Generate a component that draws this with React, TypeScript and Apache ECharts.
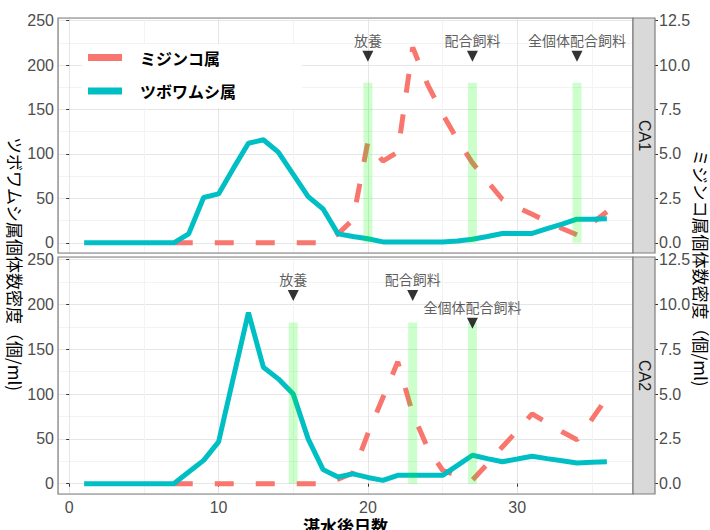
import React, { useEffect, useRef } from "react";
import * as echarts from "echarts";

// ---- data ----
const rotiferDays = [1, 2, 3, 4, 5, 6, 7, 8, 9, 10, 11, 12, 13, 14, 15, 16, 17, 18, 19, 20, 21, 22, 23, 24, 25, 26, 27, 28, 29, 30, 31, 32, 33, 34, 35, 36];
const daphniaDays = [7, 8, 9, 10, 11, 12, 13, 14, 15, 16, 17, 18, 19, 20, 21, 22, 23, 24, 25, 26, 27, 28, 29, 30, 31, 32, 33, 34, 35, 36];

// ツボワムシ属 (left axis, 個/ml)
const rotiferCA1 = [0, 0, 0, 0, 0, 0, 0, 10, 51, 55, 84, 112, 116, 102, 77, 52, 38, 10, 7, 4.5, 1, 1, 1, 1, 1, 2, 4, 7, 10.5, 10.5, 10.5, 16, 21, 26.5, 26.5, 27];
const rotiferCA2 = [0, 0, 0, 0, 0, 0, 0, 13, 26, 46.6, 119, 191, 130, 117, 100, 50, 15.7, 7.5, 11, 7, 3.7, 9.3, 9.3, 9.3, 9.3, 20.5, 31.7, 28, 24.5, 27.5, 30.6, 28, 25.5, 23, 24, 24.6];

// ミジンコ属 (right axis, 個/ml)
const daphniaCA1 = [0, 0, 0, 0, 0, 0, 0, 0, 0, 0, 0, 0.5, 1.3, 5.7, 4.6, 5.1, 11.0, 8.9, 7.25, 5.8, 4.5, 3.45, 2.45, 2.0, 1.6, 1.2, 0.8, 0.45, 1.1, 1.75];
const daphniaCA2 = [0, 0, 0, 0, 0, 0, 0, 0, 0, 0, 0, 0.25, 0.6, 2.8, 4.8, 6.8, 3.9, 2.0, 0.75, 0.45, 0.2, 1.1, 2.05, 2.95, 3.9, 3.4, 2.9, 2.45, 3.6, 4.8];

// events
const eventDaysCA1 = [20, 27, 34];
const eventDaysCA2 = [15, 23, 27];
const eventLabelsCA1 = ["放養", "配合飼料", "全個体配合飼料"];
const eventLabelsCA2 = ["放養", "配合飼料", "全個体配合飼料"];
const eventTextYCA1 = [228, 228, 228];
const eventTextYCA2 = [228, 228, 197];
const eventMarkYCA1 = [210, 210, 210];
const eventMarkYCA2 = [210, 210, 179];
const eventBarHeight = [180, 180, 180];

const stripLabels = ["CA1", "CA2"];
const seriesNames = ["ミジンコ属", "ツボワムシ属"];
const secScale = 20; // right axis value * 20 = left axis value

const RED = "#F8766D";
const TEAL = "#00BFC4";
const NUM_FONT = "Liberation Sans";
const CJK_FONT = "Noto Sans CJK JP";

export default function App() {
  const ref = useRef<HTMLDivElement>(null);

  useEffect(() => {
    if (!ref.current) return;
    const chart = echarts.init(ref.current, undefined, { renderer: "svg" });

    const GL = 58;
    const GW = 575;
    const panels = [
      { top: 18, height: 235, rot: rotiferCA1, daph: daphniaCA1, ev: eventDaysCA1, evL: eventLabelsCA1, evT: eventTextYCA1, evM: eventMarkYCA1 },
      { top: 257, height: 237, rot: rotiferCA2, daph: daphniaCA2, ev: eventDaysCA2, evL: eventLabelsCA2, evT: eventTextYCA2, evM: eventMarkYCA2 },
    ];
    const yMin = -11.5;
    const yMax = 253;

    const grids = panels.map((p) => ({
      left: GL,
      width: GW,
      top: p.top,
      height: p.height,
      show: true,
      backgroundColor: "#ffffff",
      borderWidth: 0,
    }));

    const splitLine = { show: true, lineStyle: { color: "#e6e6e6", width: 1 } };
    const minorSplitLine = { show: true, lineStyle: { color: "#f3f3f3", width: 1 } };
    const tickStyle = { show: true, length: 3, lineStyle: { color: "#333333", width: 1 } };
    const labelStyle = { color: "#4d4d4d", fontSize: 16, fontFamily: NUM_FONT };

    const xAxes = panels.map((p, g) => ({
      type: "value",
      gridIndex: g,
      min: -0.75,
      max: 37.75,
      splitNumber: 4,
      axisLine: { show: false },
      axisTick: g === 1 ? tickStyle : { show: false },
      axisLabel: g === 1 ? { ...labelStyle, margin: 5, showMinLabel: false, showMaxLabel: false } : { show: false },
      splitLine,
      minorTick: { show: false, splitNumber: 2 },
      minorSplitLine,
    }));

    const yAxes: any[] = [];
    panels.forEach((p, g) => {
      yAxes.push({
        type: "value",
        gridIndex: g,
        position: "left",
        min: yMin,
        max: yMax,
        splitNumber: 5,
        axisLine: { show: false },
        axisTick: tickStyle,
        axisLabel: { ...labelStyle, margin: 4, showMinLabel: false, showMaxLabel: false },
        splitLine,
        minorTick: { show: false, splitNumber: 2 },
        minorSplitLine,
      });
      yAxes.push({
        type: "value",
        gridIndex: g,
        position: "right",
        offset: 22,
        min: yMin,
        max: yMax,
        splitNumber: 5,
        axisLine: { show: false },
        axisTick: tickStyle,
        axisLabel: {
          ...labelStyle,
          margin: 4,
          showMinLabel: false,
          showMaxLabel: false,
          formatter: (v: number) => (v / secScale).toFixed(1),
        },
        splitLine: { show: false },
      });
    });

    const series: any[] = [];
    panels.forEach((p, g) => {
      series.push({
        type: "line",
        name: seriesNames[0],
        xAxisIndex: g,
        yAxisIndex: g * 2 + 1,
        data: daphniaDays.map((d, i) => [d, p.daph[i] * secScale]),
        symbol: "none",
        silent: true,
        lineStyle: { color: RED, width: 5, type: [19, 22], cap: "butt" },
        itemStyle: { color: RED },
        z: 2,
      });
      series.push({
        type: "line",
        name: seriesNames[1],
        xAxisIndex: g,
        yAxisIndex: g * 2,
        data: rotiferDays.map((d, i) => [d, p.rot[i]]),
        symbol: "none",
        silent: true,
        lineStyle: { color: TEAL, width: 5 },
        itemStyle: { color: TEAL },
        z: 3,
      });
      series.push({
        type: "bar",
        xAxisIndex: g,
        yAxisIndex: g * 2,
        data: p.ev.map((x, i) => [x, eventBarHeight[i]]),
        barWidth: 9,
        silent: true,
        itemStyle: { color: "rgba(0,255,0,0.2)" },
        z: 4,
      });
      series.push({
        type: "scatter",
        xAxisIndex: g,
        yAxisIndex: g * 2,
        data: p.ev.map((x, i) => [x, p.evM[i]]),
        symbol: "triangle",
        symbolRotate: 180,
        symbolSize: [11, 11],
        silent: true,
        itemStyle: { color: "#000000" },
        z: 5,
      });
      series.push({
        type: "scatter",
        xAxisIndex: g,
        yAxisIndex: g * 2,
        data: p.ev.map((x, i) => ({ value: [x, p.evT[i]], name: p.evL[i] })),
        symbolSize: 1,
        silent: true,
        itemStyle: { color: "rgba(0,0,0,0)" },
        label: {
          show: true,
          position: "inside",
          formatter: "{b}",
          color: "#333333",
          fontSize: 14,
          fontFamily: CJK_FONT,
        },
        z: 5,
      });
    });

    const graphic: any[] = [];
    panels.forEach((p, g) => {
      graphic.push({
        type: "rect",
        z: 50,
        silent: true,
        shape: { x: GL, y: p.top, width: GW, height: p.height },
        style: { fill: "none", stroke: "#7f7f7f", lineWidth: 1.2 },
      });
      graphic.push({
        type: "rect",
        z: 50,
        silent: true,
        shape: { x: GL + GW, y: p.top, width: 22, height: p.height },
        style: { fill: "#d9d9d9", stroke: "#7f7f7f", lineWidth: 1.2 },
      });
      graphic.push({
        type: "text",
        z: 51,
        silent: true,
        x: GL + GW + 11,
        y: p.top + p.height / 2,
        rotation: -Math.PI / 2,
        style: {
          text: stripLabels[g],
          fill: "#1a1a1a",
          font: `16px "${NUM_FONT}"`,
          align: "center",
          verticalAlign: "middle",
          textAlign: "center",
          textVerticalAlign: "middle",
        },
      });
    });

    // legend
    graphic.push({
      type: "rect",
      z: 20,
      silent: true,
      shape: { x: 82, y: 44, width: 220, height: 64 },
      style: { fill: "#ffffff" },
    });
    [RED, TEAL].forEach((c, i) => {
      const y = i === 0 ? 57.5 : 91;
      graphic.push({
        type: "line",
        z: 21,
        silent: true,
        shape: { x1: 88, y1: y, x2: 122, y2: y },
        style: { stroke: c, lineWidth: 7 },
      });
      graphic.push({
        type: "text",
        z: 21,
        silent: true,
        x: 140,
        y,
        style: {
          text: seriesNames[i],
          fill: "#000000",
          font: `bold 16px "${CJK_FONT}"`,
          align: "left",
          verticalAlign: "middle",
          textAlign: "left",
          textVerticalAlign: "middle",
        },
      });
    });

    // axis titles
    const titleStyle = (t: string, bold: boolean) => ({
      text: t,
      fill: "#000000",
      font: `${bold ? "bold " : ""}17px "${CJK_FONT}"`,
      align: "center",
      verticalAlign: "middle",
      textAlign: "center",
      textVerticalAlign: "middle",
    });
    graphic.push({
      type: "text",
      z: 30,
      silent: true,
      x: 15,
      y: 264,
      rotation: -Math.PI / 2,
      style: titleStyle("ツボワムシ属個体数密度（個/ml)", false),
    });
    graphic.push({
      type: "text",
      z: 30,
      silent: true,
      x: 701,
      y: 268,
      rotation: -Math.PI / 2,
      style: titleStyle("ミジンコ属個体数密度（個/ml)", false),
    });
    graphic.push({
      type: "text",
      z: 30,
      silent: true,
      x: GL + GW / 2,
      y: 525,
      style: titleStyle("湛水後日数", true),
    });

    chart.setOption({
      animation: false,
      backgroundColor: "#ffffff",
      textStyle: { fontFamily: NUM_FONT },
      grid: grids,
      xAxis: xAxes,
      yAxis: yAxes,
      series,
      graphic,
    });

    return () => chart.dispose();
  }, []);

  return (
    <div
      ref={ref}
      style={{ position: "fixed", left: 0, top: 0, width: 710, height: 530, background: "#fff" }}
    />
  );
}
